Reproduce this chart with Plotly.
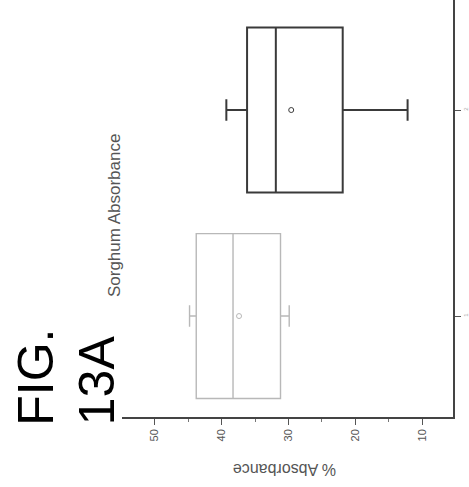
import plotly.graph_objects as go

# ---- data ----
categories = ["1", "2"]
cat_pos = [0, 1]
q1_vals = [31.2, 21.9]
median_vals = [38.3, 31.9]
q3_vals = [43.8, 36.2]
lower_vals = [29.9, 12.2]
upper_vals = [44.8, 39.3]
mean_vals = [37.4, 29.6]
tick_vals = [50, 40, 30, 20, 10]
tick_text = ["50", "40", "30", "20", "10"]
box_colors = ["#b8b8b8", "#3a3a3a"]
box_widths = [1.4, 2.0]

fig = go.Figure()
for i in range(len(categories)):
    fig.add_trace(go.Box(
        y=[cat_pos[i]], q1=[q1_vals[i]], median=[median_vals[i]], q3=[q3_vals[i]],
        lowerfence=[lower_vals[i]], upperfence=[upper_vals[i]],
        orientation="h", width=0.8, whiskerwidth=0.13,
        fillcolor="rgba(255,255,255,0)",
        line=dict(color=box_colors[i], width=box_widths[i]),
        showlegend=False, hoverinfo="skip",
    ))
    fig.add_trace(go.Scatter(
        x=[mean_vals[i]], y=[cat_pos[i]], mode="markers",
        marker=dict(symbol="circle-open", size=5, color=box_colors[i], line=dict(width=1)),
        showlegend=False, hoverinfo="skip",
    ))

fig.update_layout(
    width=469, height=487,
    margin=dict(l=122, r=13, t=0, b=70),
    paper_bgcolor="white", plot_bgcolor="white",
    font=dict(family="Liberation Sans, Arial, sans-serif", color="#333"),
    xaxis=dict(
        range=[54.9, 5.41], tickvals=tick_vals, ticktext=tick_text,
        tickangle=-90, tickfont=dict(size=11, color="#555"),
        ticks="outside", ticklen=6, tickcolor="#555", tickwidth=1,
        minor=dict(ticks="outside", ticklen=3, dtick=5, tickcolor="#777"),
        showline=True, linecolor="#444", linewidth=1.6,
        showgrid=False, zeroline=False,
    ),
    yaxis=dict(
        range=[-0.49, 1.534], tickvals=cat_pos, ticktext=categories,
        side="right", tickangle=-90, tickfont=dict(size=6, color="#aaa"),
        ticks="outside", ticklen=6, tickcolor="#555",
        showline=True, linecolor="#444", linewidth=1.6,
        showgrid=False, zeroline=False,
    ),
    annotations=[
        dict(text="FIG.", x=35, y=377, showarrow=False, textangle=-90,
             font=dict(size=50, color="black", family="Liberation Sans, Arial")),
        dict(text="13A", x=97, y=380, showarrow=False, textangle=-90,
             font=dict(size=50, color="black", family="Liberation Sans, Arial")),
        dict(text="Sorghum Absorbance", x=114, y=215, showarrow=False, textangle=-90,
             font=dict(size=17, color="#555")),
        dict(text="% Absorbance", x=286, y=469, showarrow=False, textangle=180,
             font=dict(size=16, color="#555")),
    ],
)

# convert pixel positions of annotations to paper coords
pw, ph = 469 - 122 - 13, 487 - 0 - 70
for a in fig.layout.annotations:
    px, py = a.x, a.y
    a.xref = "paper"; a.yref = "paper"
    a.x = (px - 122) / pw
    a.y = 1 - (py - 0) / ph
    a.xanchor = "center"; a.yanchor = "middle"

fig.write_html("out.html")
